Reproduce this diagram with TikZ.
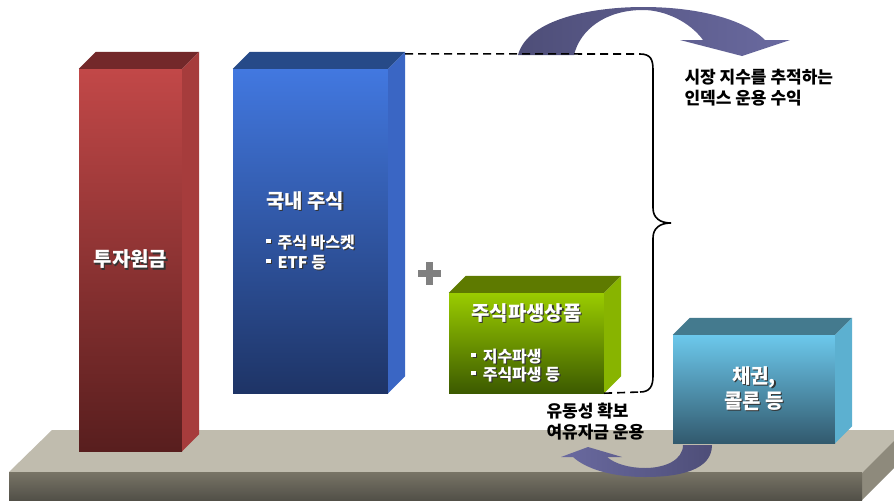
\documentclass[tikz,border=0pt]{standalone}
\usepackage{fontspec}
\setmainfont{Noto Sans CJK KR}
\usepackage{tikz}
\usetikzlibrary{positioning,calc}
\definecolor{rojoA}{RGB}{194,72,72}
\definecolor{rojoB}{RGB}{88,30,30}
\definecolor{rojoT}{RGB}{115,40,42}
\definecolor{rojoS}{RGB}{166,60,60}
\definecolor{azulA}{RGB}{66,120,224}
\definecolor{azulB}{RGB}{30,52,102}
\definecolor{azulT}{RGB}{38,74,136}
\definecolor{azulS}{RGB}{58,102,196}
\definecolor{verdeA}{RGB}{154,204,0}
\definecolor{verdeB}{RGB}{60,90,0}
\definecolor{verdeT}{RGB}{94,122,0}
\definecolor{verdeS}{RGB}{136,180,0}
\definecolor{celesteA}{RGB}{108,200,236}
\definecolor{celesteB}{RGB}{50,90,110}
\definecolor{celesteT}{RGB}{68,122,142}
\definecolor{celesteS}{RGB}{92,176,208}
\definecolor{sueloT}{RGB}{192,188,174}
\definecolor{sueloA}{RGB}{120,116,102}
\definecolor{sueloB}{RGB}{82,80,72}
\definecolor{sueloS}{RGB}{142,138,124}
\definecolor{flechaA}{RGB}{78,78,120}
\definecolor{flechaB}{RGB}{106,106,160}
\newcommand{\sombra}[1]{\leavevmode\rlap{\kern1.2pt\raisebox{-1.2pt}{\textcolor{black!80}{#1}}}#1}
\newcommand{\grande}{\fontsize{20}{20}\selectfont}
\newcommand{\vineta}{\raisebox{0.3em}{\rule{4.5pt}{4.5pt}}\hspace{7pt}}

\begin{document}
\begin{tikzpicture}[
    x=1pt, y=-1pt,
    font=\bfseries,
    cara/.style={rectangle, inner sep=0pt, text=white, align=left},
    nota/.style={font=\fontsize{17}{21}\selectfont\bfseries, align=left, anchor=west}
  ]
    \useasboundingbox (0,0) rectangle (894,501);

    % base
    \fill[sueloT] (9,472) -- (52,430) -- (920,430) -- (862,473) -- cycle;
    \fill[sueloS] (862,473) -- (905,430) -- (905,457) -- (862,500) -- cycle;
    \shade[top color=sueloA, bottom color=sueloB] (9,472) rectangle (862,500);

    % columnas
    \node[cara, minimum width=103pt, minimum height=382pt,
      top color=rojoA, bottom color=rojoB, font=\grande\bfseries] (principal)
      at (130.5,260) {\sombra{투자원금}};
    \node[cara, minimum width=155pt, minimum height=324pt,
      top color=azulA, bottom color=azulB,
      font=\fontsize{16}{20}\selectfont\bfseries] (acciones) at (310.5,231)
      {{\grande\sombra{국내 주식}}\\[20pt]
       \sombra{\vineta 주식 바스켓}\\
       \sombra{\vineta ETF 등}};
    \node[cara, minimum width=155pt, minimum height=100pt,
      top color=verdeA, bottom color=verdeB,
      font=\fontsize{16}{18}\selectfont\bfseries] (derivados) at (526.5,343)
      {{\grande\sombra{주식파생상품}}\\[24pt]
       \sombra{\vineta 지수파생}\\
       \sombra{\vineta 주식파생 등}};
    \node[cara, minimum width=162pt, minimum height=108pt, align=center,
      top color=celesteA, bottom color=celesteB,
      font=\fontsize{20}{25}\selectfont\bfseries] (bonos) at (754,389)
      {\sombra{채권,}\\ \sombra{콜론 등}};

    \foreach \n/\ct/\cs in {principal/rojoT/rojoS, acciones/azulT/azulS,
        derivados/verdeT/verdeS, bonos/celesteT/celesteS} {
      \fill[\ct] (\n.north west) -- ([shift={(17,-17)}]\n.north west)
        -- ([shift={(17,-17)}]\n.north east) -- (\n.north east) -- cycle;
      \fill[\cs] (\n.north east) -- ([shift={(17,-17)}]\n.north east)
        -- ([shift={(17,-17)}]\n.south east) -- (\n.south east) -- cycle;
    }

    % signo mas
    \draw[line width=7pt, black!50] (418,273) -- (441,273) (429.5,262) -- (429.5,285);

    % flechas curvas
    \shade[left color=flechaA, right color=flechaB]
      (518,55) .. controls (528,18) and (595,7) .. (643,7)
      .. controls (700,7) and (745,20) .. (765,40) -- (790,40) -- (742,56)
      -- (680,40) -- (703,40) .. controls (690,22) and (665,10) .. (643,10)
      .. controls (605,10) and (580,30) .. (574,55) -- cycle;
    \shade[left color=flechaB, right color=flechaA]
      (712,445) .. controls (712,470) and (680,477) .. (645,477)
      .. controls (610,477) and (585,468) .. (573,457) -- (561,457) -- (588,447)
      -- (622,457) -- (607,457) .. controls (615,464) and (630,468) .. (645,468)
      .. controls (665,468) and (683,460) .. (683,445) -- cycle;

    % llave
    \coordinate (llaveA) at (640,54);
    \coordinate (llaveB) at (640,392);
    \coordinate (punta) at (671,223);
    \draw[line width=1.6pt, dashed, dash pattern=on 8pt off 5pt]
      ([shift={(17,-15)}]acciones.north east) -- (llaveA);
    \draw[line width=1.6pt, dashed, dash pattern=on 8pt off 5pt]
      (derivados.south east) -- (llaveB);
    \draw[line width=1.6pt] (llaveA) .. controls (651,54) and (653,60) .. (653,70)
      -- (653,208) .. controls (653,218) and (660,223) .. (punta)
      .. controls (660,223) and (653,228) .. (653,238)
      -- (653,376) .. controls (653,386) and (650,392) .. (llaveB);

    % notas
    \node[nota] (indice) at (681,88) {시장 지수를 추적하는\\인덱스 운용 수익};
    \node[nota] (liquidez) at (543,422) {유동성 확보\\여유자금 운용};
  \end{tikzpicture}
\end{document}
